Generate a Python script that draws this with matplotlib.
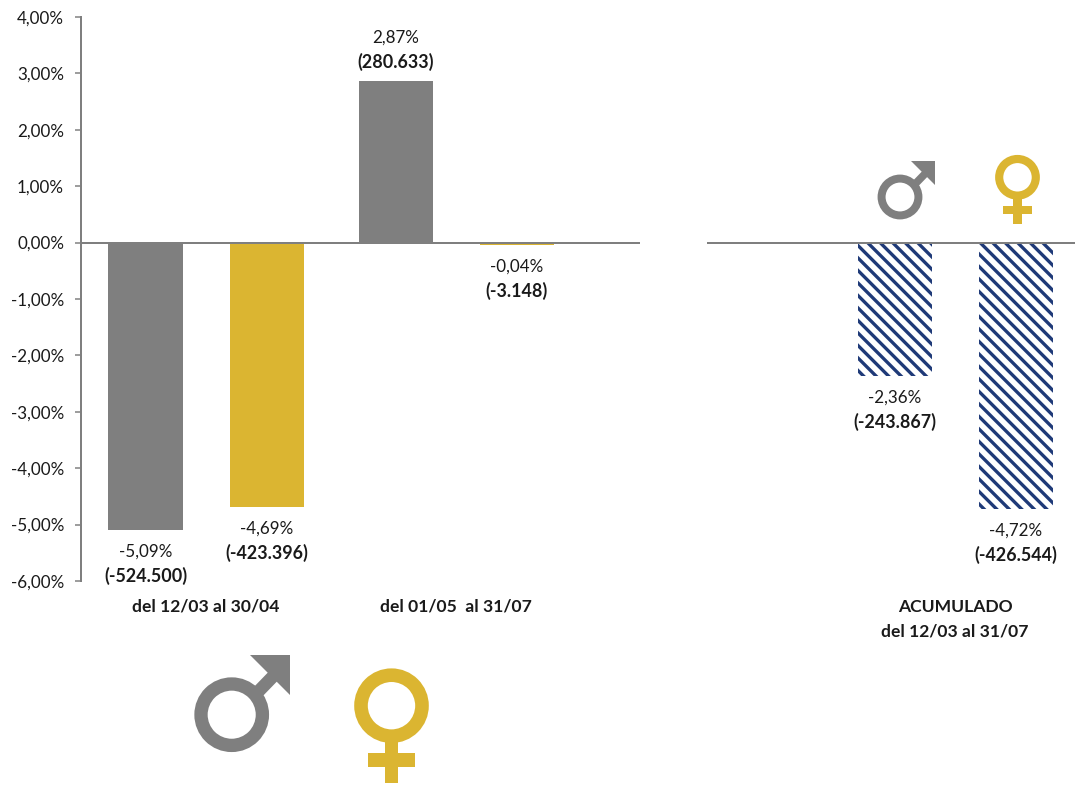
import matplotlib
matplotlib.use("Agg")
import matplotlib.pyplot as plt
from matplotlib.patches import Circle, Polygon, Rectangle

W, H = 1075, 785
DPI = 150

GREY = "#7f7f7f"
GOLD = "#dbb531"
NAVY = "#1f3a78"
TEXT = "#1a1a1a"

# data
periods = ["del 12/03 al 30/04", "del 01/05  al 31/07"]
men = [-5.09, 2.87]
women = [-4.69, -0.04]
men_counts = ["(-524.500)", "(280.633)"]
women_counts = ["(-423.396)", "(-3.148)"]
men_pct = ["-5,09%", "2,87%"]
women_pct = ["-4,69%", "-0,04%"]

total_label = "ACUMULADO\ndel 12/03 al 31/07"
total_vals = [-2.36, -4.72]
total_counts = ["(-243.867)", "(-426.544)"]
total_pct = ["-2,36%", "-4,72%"]

yticks = [4, 3, 2, 1, 0, -1, -2, -3, -4, -5, -6]
ytick_labels = ["4,00%", "3,00%", "2,00%", "1,00%", "0,00%", "-1,00%",
                "-2,00%", "-3,00%", "-4,00%", "-5,00%", "-6,00%"]

plt.rcParams["font.family"] = ["Lato", "DejaVu Sans"]
plt.rcParams["hatch.linewidth"] = 1.6
FS = 8.2
FS_BOLD = 8.6
FS_CAT = 8.4


def px(n):
    # pixels to points at the figure dpi
    return n * 72 / DPI


def axes_at(fig, left, right, top=17, bottom=581):
    return fig.add_axes([left / W, 1 - bottom / H, (right - left) / W, (bottom - top) / H])


def put_label(ax, x, val, pct, count):
    # two line label under or over the bar end
    if val > 0:
        spots = [(pct, 43, "normal", FS), (count, 19, "bold", FS_BOLD)]
    else:
        spots = [(pct, -22, "normal", FS), (count, -46, "bold", FS_BOLD)]
    for txt, off, weight, size in spots:
        ax.annotate(txt, (x, val), xytext=(0, px(off)), textcoords="offset points",
                    ha="center", va="center", fontsize=size, color=TEXT, fontweight=weight)


def male(ax, cx, cy, s, color):
    ax.add_patch(Circle((cx, cy), 30.7 * s, fill=False, ec=color, lw=px(13.3 * s)))
    tx, ty = cx + 58.5 * s, cy - 59.5 * s
    ax.add_patch(Polygon([(cx + 21 * s, cy - 26.5 * s), (cx + 37 * s, cy - 43 * s),
                          (cx + 46 * s, cy - 34 * s), (cx + 30 * s, cy - 17.5 * s)],
                         fc=color, lw=0))
    ax.add_patch(Polygon([(tx - 40 * s, ty), (tx, ty), (tx, ty + 40 * s)], fc=color, lw=0))


def female(ax, cx, cy, s, color):
    ax.add_patch(Circle((cx, cy), 30.5 * s, fill=False, ec=color, lw=px(13.6 * s)))
    ax.add_patch(Rectangle((cx - 6.7 * s, cy + 35 * s), 13.4 * s, 42.6 * s, fc=color, lw=0))
    ax.add_patch(Rectangle((cx - 23.7 * s, cy + 47.6 * s), 47.4 * s, 13.4 * s, fc=color, lw=0))


fig = plt.figure(figsize=(W / DPI, H / DPI), dpi=DPI)

# left panel
ax = axes_at(fig, 81, 640)
offset = 60.5 / 250
width = 74 / 250
for i in range(len(periods)):
    ax.bar(i - offset, men[i], width, color=GREY, lw=0)
    ax.bar(i + offset, women[i], width, color=GOLD, lw=0)
    put_label(ax, i - offset, men[i], men_pct[i], men_counts[i])
    put_label(ax, i + offset, women[i], women_pct[i], women_counts[i])
ax.set_xlim(-0.5, 1.736)
ax.set_ylim(-6, 4)
ax.set_yticks(yticks)
ax.set_yticklabels(ytick_labels, fontsize=FS, color=TEXT)
ax.tick_params(axis="y", length=px(6), width=px(1.5), color=GREY, pad=px(11))
ax.set_xticks(range(len(periods)))
ax.set_xticklabels(periods, fontsize=FS_CAT, fontweight="bold", color=TEXT)
ax.tick_params(axis="x", length=0, pad=px(18))
ax.axhline(0, color=GREY, lw=px(2), zorder=5)
for side in ["top", "right", "bottom"]:
    ax.spines[side].set_visible(False)
ax.spines["left"].set_color(GREY)
ax.spines["left"].set_linewidth(px(2))

# right panel
ax2 = axes_at(fig, 707, 1075)
for i, sign in enumerate([-1, 1]):
    x = sign * offset
    ax2.bar(x, total_vals[i], width, facecolor="white", edgecolor=NAVY, hatch="\\\\\\\\", lw=0)
    put_label(ax2, x, total_vals[i], total_pct[i], total_counts[i])
ax2.set_xlim(-248 / 250, 120 / 250)
ax2.set_ylim(-6, 4)
ax2.set_yticks([])
ax2.set_xticks([0])
ax2.set_xticklabels([total_label], fontsize=FS_CAT, fontweight="bold", color=TEXT, linespacing=1.65)
ax2.tick_params(axis="x", length=0, pad=px(18))
ax2.axhline(0, color=GREY, lw=px(2), zorder=5)
for spine in ax2.spines.values():
    spine.set_visible(False)

# gender symbols, in pixel coordinates
ov = fig.add_axes([0, 0, 1, 1])
ov.set_xlim(0, W)
ov.set_ylim(H, 0)
ov.axis("off")
male(ov, 231.7, 714.7, 1, GREY)
female(ov, 391.5, 705.7, 1, GOLD)
male(ov, 900, 197, 0.6, GREY)
female(ov, 1017.5, 177.3, 0.6, GOLD)

fig.savefig("out.png", dpi=DPI)
